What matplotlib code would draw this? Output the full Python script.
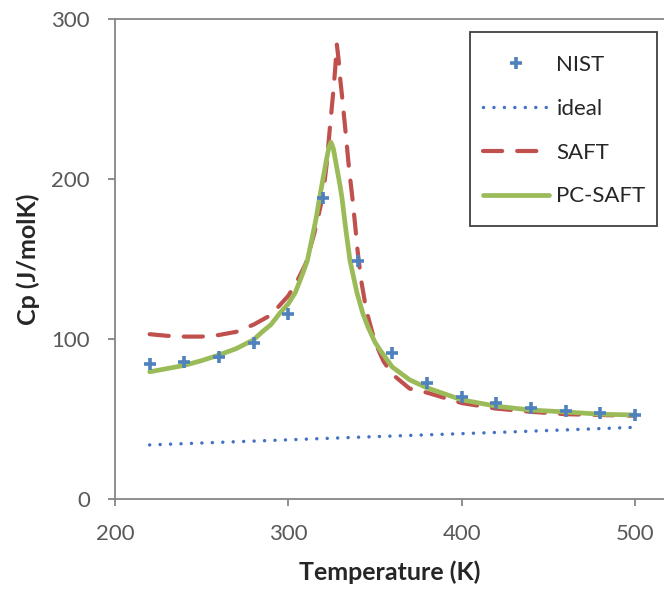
import matplotlib
matplotlib.use("Agg")
import matplotlib.pyplot as plt
from matplotlib.lines import Line2D
from matplotlib.patches import Rectangle

plt.rcParams['font.family'] = ['Lato', 'DejaVu Sans']

# NIST reference data
nist_T = [220, 240, 260, 280, 300, 320, 340, 360, 380, 400, 420, 440, 460, 480, 500]
nist_cp = [84.4, 85.6, 88.8, 97.5, 115.6, 188, 149, 91, 72.5, 64, 60, 57, 55, 54, 52.5]

# Ideal-gas heat capacity
ideal_T = [220, 260, 300, 340, 380, 420, 460, 500]
ideal_cp = [33.8, 35.4, 37.0, 38.6, 40.1, 41.6, 43.2, 44.8]

# SAFT prediction
saft_T = [220, 230, 240, 250, 260, 270, 280, 290, 300, 305, 310, 315, 318, 320, 322,
          324, 326, 327, 328, 329, 330, 331, 333, 335, 337, 338.5, 340, 342, 345,
          348, 350, 355, 360, 370, 380, 400, 420, 440, 460, 480, 500]
saft_cp = [103, 102, 101.5, 101.5, 102.5, 104.5, 109, 115, 127, 136, 147, 166, 180, 190, 208,
           232, 255, 268, 284, 275, 262, 252, 230, 207, 188, 172, 155, 137, 118,
           106, 98, 86, 78, 69, 66.5, 60, 56.5, 54.5, 53, 52.5, 52]

# PC-SAFT prediction
pcsaft_T = [220, 230, 240, 250, 260, 270, 280, 285, 290, 295, 300, 304, 308, 311, 316,
            318, 320, 322, 323.5, 324.6, 326, 328, 330, 331, 333, 335.6, 339.6, 343,
            346, 350, 353, 360, 370, 380, 400, 420, 440, 460, 480, 500]
pcsaft_cp = [79.5, 81.5, 83.5, 86.5, 90, 94, 99.5, 104.5, 109, 116, 122, 129, 140, 149, 175,
             188, 200, 212, 220, 223, 219, 207, 195, 188, 170, 149, 129, 116,
             107.5, 98, 93, 82.5, 74.5, 69.5, 62, 58, 55.6, 54.4, 53, 52.5]

x_ticks = [200, 300, 400, 500]
y_ticks = [0, 100, 200, 300]

blue = '#4F81BD'
dot_blue = '#4472C4'
red = '#C0504D'
green = '#9BBB59'
axis_gray = '#868686'
text_gray = '#595959'

W, H = 664, 593
fig = plt.figure(figsize=(W / 100, H / 100), dpi=100)
ax = fig.add_axes([115 / W, 94 / H, 549 / W, 480 / H])

dot_style = dict(color=dot_blue, lw=2.5, linestyle=(0, (0.01, 3.0)), dash_capstyle='round')
saft_style = dict(color=red, lw=3.0, linestyle=(0, (4.6, 3.6)), dash_capstyle='round')
pc_style = dict(color=green, lw=3.4, solid_capstyle='round')
nist_style = dict(linestyle='none', marker='+', markersize=9, markeredgewidth=2.6, color=blue)

ax.plot(ideal_T, ideal_cp, label='ideal', zorder=2, **dot_style)
ax.plot(saft_T, saft_cp, label='SAFT', zorder=3, **saft_style)
ax.plot(pcsaft_T, pcsaft_cp, label='PC-SAFT', zorder=4, **pc_style)
ax.plot(nist_T, nist_cp, label='NIST', zorder=5, **nist_style)

ax.set_xlim(200, 200 + 549 / 1.733)
ax.set_ylim(0, 300)
ax.set_xticks(x_ticks)
ax.set_yticks(y_ticks)

for side in ['left', 'bottom', 'top']:
    ax.spines[side].set_color(axis_gray)
    ax.spines[side].set_linewidth(1.3)
ax.spines['right'].set_visible(False)
ax.tick_params(direction='out', length=5, width=1.3, color=axis_gray,
               labelsize=16, labelcolor=text_gray)
ax.tick_params(axis='x', pad=13)
ax.tick_params(axis='y', pad=13)

ax.set_xlabel('Temperature (K)', fontsize=18, fontweight='bold', color='#262626', labelpad=12)
ax.set_ylabel('Cp (J/molK)', fontsize=18, fontweight='bold', color='#262626', labelpad=8)

handles = [
    Line2D([], [], **nist_style),
    Line2D([], [], **dot_style),
    Line2D([], [], **saft_style),
    Line2D([], [], **pc_style),
]
labels = ['NIST', 'ideal', 'SAFT', 'PC-SAFT']
leg = ax.legend(handles, labels, loc='upper left', bbox_to_anchor=(483 / W, 1 - 55 / H),
                bbox_transform=fig.transFigure, fontsize=16, handlelength=2.95,
                handletextpad=0.35, labelspacing=1.07, borderpad=0, borderaxespad=0,
                frameon=False, labelcolor='#262626')

# legend border
fig.patches.append(Rectangle((470 / W, 1 - 226 / H), 187 / W, 194 / H,
                             transform=fig.transFigure, fill=False,
                             edgecolor='#404040', linewidth=1.3, zorder=10))

fig.savefig('out.png', dpi=100)
